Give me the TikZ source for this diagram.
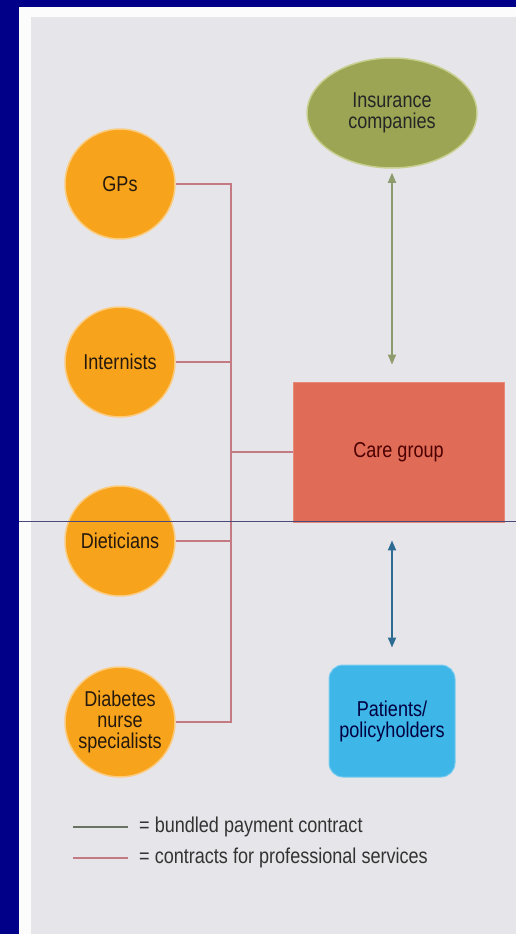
\documentclass[tikz,border=0pt]{standalone}
\usepackage{fontspec}
\setmainfont{Liberation Sans}[FakeStretch=0.84]
\usetikzlibrary{arrows.meta,shapes.geometric}

\definecolor{frameblue}{HTML}{000088}
\definecolor{panelgray}{HTML}{E6E6EA}
\definecolor{olive}{HTML}{9BA553}
\definecolor{olivehalo}{HTML}{C9CF90}
\definecolor{orangefill}{HTML}{F7A41C}
\definecolor{orangehalo}{HTML}{FBCB80}
\definecolor{carered}{HTML}{E06B56}
\definecolor{skyblue}{HTML}{3FB6E8}
\definecolor{greenline}{HTML}{8E9B6C}
\definecolor{blueline}{HTML}{2E6B93}
\definecolor{redline}{HTML}{C47A82}
\definecolor{legendgreen}{HTML}{6A7262}
\definecolor{rulecolor}{HTML}{4A4A7A}

\tikzset{
  lbl/.style={font=\fontsize{21.5}{21}\selectfont, align=center, inner sep=0pt},
  staff/.style={lbl, circle, minimum size=110pt, fill=orangefill,
                draw=orangehalo, line width=1.5pt, text=black!80!brown},
  insurer/.style={lbl, ellipse, minimum width=170pt, minimum height=110pt,
                  fill=olive, draw=olivehalo, line width=1.5pt, text=black!85},
  carebox/.style={lbl, rectangle, minimum width=211pt, minimum height=140pt,
                  fill=carered, draw=carered!80!white, line width=0.8pt, text=black!70!red},
  patientbox/.style={lbl, rectangle, rounded corners=14pt, minimum width=126pt,
                     minimum height=112pt, fill=skyblue, draw=skyblue!70!white,
                     line width=1pt, text=black!75!blue},
  service/.style={draw=redline, line width=1.3pt},
  bundled/.style={draw=greenline, line width=1.6pt,
                  {Triangle[length=10pt,width=8pt]}-{Triangle[length=10pt,width=8pt]}},
  patientlink/.style={draw=blueline, line width=1.8pt,
                  {Triangle[length=10pt,width=8pt]}-{Triangle[length=10pt,width=8pt]}},
  legendtext/.style={font=\fontsize{21.5}{21}\selectfont, anchor=west, inner sep=0pt, text=black!80}
}

\begin{document}
\begin{tikzpicture}[x=1pt,y=-1pt]
  % page frame and panel
  \useasboundingbox (0,0) rectangle (516,934);
  \fill[frameblue] (0,0) rectangle (516,934);
  \fill[white!98!gray] (19,7) rectangle (516,934);
  \fill[panelgray] (31,17) rectangle (516,934);

  % nodes
  \node[insurer] (ins) at (392,113) {Insurance\\companies};
  \node[carebox] (care) at (398.5,452) {Care group};
  \node[patientbox] (pat) at (392,721) {Patients/\\policyholders};

  \node[staff] (gps) at (120,184) {GPs};
  \node[staff] (int) at (120,362) {Internists};
  \node[staff] (die) at (120,541) {Dieticians};
  \node[staff] (dns) at (120,722) {Diabetes\\nurse\\specialists};

  % professional service contracts: bus joining the staff to the care group
  \coordinate (busT) at (231,184);
  \coordinate (busB) at (231,722);
  \coordinate (busC) at (231,452);
  \draw[service] (gps.east) -- (busT) -- (busB) -- (dns.east);
  \draw[service] (int.east) -- (int.east -| busT);
  \draw[service] (die.east) -- (die.east -| busT);
  \draw[service] (busC) -- (care.west);

  % bundled payment and patient links
  \draw[bundled, shorten <=4pt, shorten >=17pt] (ins.south) -- (care.north -| ins.south);
  \draw[patientlink, shorten <=18pt, shorten >=17pt] (care.south -| pat.north) -- (pat.north);

  % thin rule across the page
  \coordinate (ruleL) at (19,521);
  \coordinate (ruleR) at (516,521);
  \draw[rulecolor, line width=0.6pt] (ruleL) -- (ruleR);

  % legend
  \coordinate (lg1a) at (73,827);
  \coordinate (lg1b) at (128,827);
  \coordinate (lg2a) at (73,858);
  \coordinate (lg2b) at (128,858);
  \draw[legendgreen, line width=1.2pt] (lg1a) -- (lg1b);
  \draw[redline, line width=1.3pt] (lg2a) -- (lg2b);
  \node[legendtext] (lt1) at (139,827) {= bundled payment contract};
  \node[legendtext] (lt2) at (139,858) {= contracts for professional services};
\end{tikzpicture}
\end{document}
